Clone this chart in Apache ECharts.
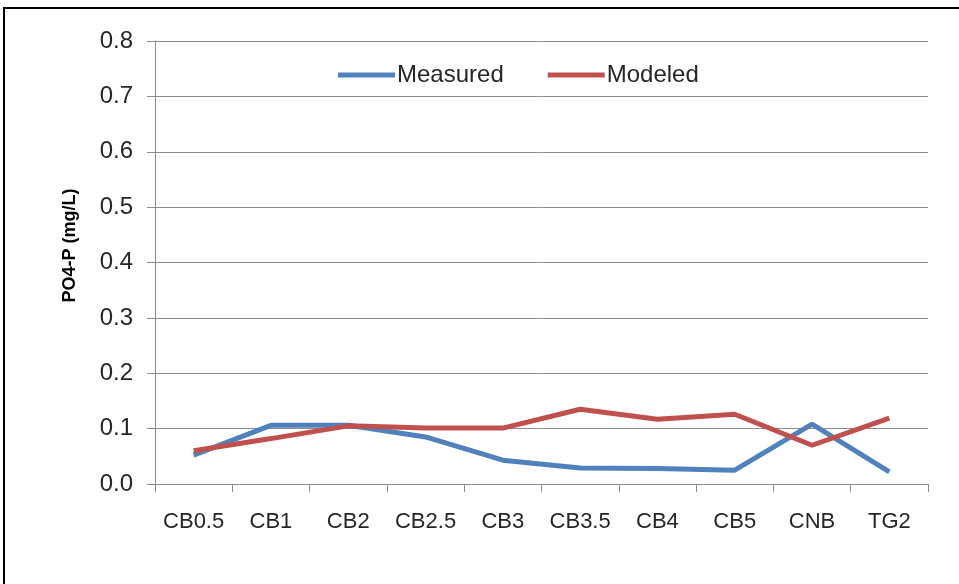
<!DOCTYPE html>
<html>
<head>
<meta charset="utf-8">
<script src="https://cdn.jsdelivr.net/npm/echarts@6/dist/echarts.min.js"></script>
<style>html,body{margin:0;padding:0;background:#fff;}#c{width:959px;height:584px;}</style>
</head>
<body>
<div id="c"></div>
<script>
const categories = ['CB0.5','CB1','CB2','CB2.5','CB3','CB3.5','CB4','CB5','CNB','TG2'];
const measured = [0.052,0.106,0.106,0.085,0.043,0.029,0.028,0.025,0.108,0.022];
const modeled = [0.060,0.082,0.105,0.101,0.101,0.135,0.117,0.126,0.070,0.119];
const yTicks = {min:0, max:0.8, interval:0.1};
const font = "'Liberation Sans', Arial, sans-serif";

const chart = echarts.init(document.getElementById('c'), null, {renderer:'canvas'});
chart.setOption({
  animation:false,
  backgroundColor:'#fff',
  graphic:[{type:'rect', shape:{x:4,y:8,width:1000,height:1000}, style:{fill:null, stroke:'#000', lineWidth:2}, silent:true}],
  grid:{left:155, right:31, top:41, bottom:100, containLabel:false},
  legend:{
    left:333, top:58, itemWidth:57, itemHeight:5, itemGap:44, icon:'rect',
    textStyle:{fontFamily:font, fontSize:24, color:'#262626', padding:[0,0,0,-3]},
    data:['Measured','Modeled']
  },
  xAxis:{
    type:'category', data:categories, boundaryGap:true,
    axisLine:{lineStyle:{color:'#8c8c8c', width:1}},
    axisTick:{show:true, length:8, interval:0, lineStyle:{color:'#8c8c8c'}},
    axisLabel:{fontFamily:font, fontSize:22, color:'#262626', margin:27, interval:0}
  },
  yAxis:{
    type:'value', min:yTicks.min, max:yTicks.max, interval:yTicks.interval,
    name:'PO4-P (mg/L)', nameLocation:'middle', nameGap:76, nameRotate:90,
    nameTextStyle:{fontFamily:font, fontSize:18, fontWeight:'bold', color:'#000', padding:[0,0,0,34]},
    axisLine:{show:true, lineStyle:{color:'#8c8c8c'}},
    axisTick:{show:true, length:8, inside:false, lineStyle:{color:'#8c8c8c'}},
    axisLabel:{fontFamily:font, fontSize:24, color:'#262626', margin:22, formatter:v=>v.toFixed(1)},
    splitLine:{show:true, lineStyle:{color:'#8c8c8c', width:1}}
  },
  series:[
    {name:'Measured', type:'line', data:measured, symbol:'none', lineStyle:{width:5, color:'#4f81bd'}, itemStyle:{color:'#4f81bd'}},
    {name:'Modeled', type:'line', data:modeled, symbol:'none', lineStyle:{width:5, color:'#c0504d'}, itemStyle:{color:'#c0504d'}}
  ]
});
</script>
</body>
</html>
